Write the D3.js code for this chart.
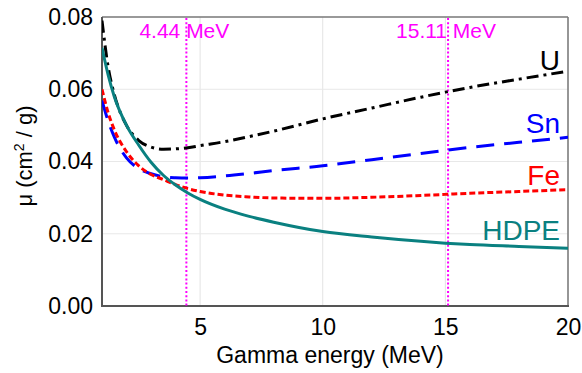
<!DOCTYPE html>
<html><head><meta charset="utf-8">
<script src="https://cdn.jsdelivr.net/npm/d3@7"></script>
<style>body{margin:0;background:#fff}svg{display:block;font-family:"Liberation Sans",Arial,sans-serif}</style>
</head><body>
<svg id="c" width="582" height="373"></svg>
<script>
const energies = [1, 1.25, 1.5, 2, 2.5, 3, 3.5, 4, 4.5, 5, 6, 7, 8, 10, 12, 14, 15, 16, 18, 20];
const muU    = [0.0790,0.0662,0.0586,0.0500,0.0458,0.0440,0.0434,0.0435,0.0438,0.0444,0.0455,0.0469,0.0484,0.0518,0.0548,0.0578,0.0592,0.0605,0.0628,0.0650];
const muSn   = [0.0569,0.0512,0.0468,0.0410,0.0380,0.0366,0.0358,0.0355,0.0354,0.0355,0.0360,0.0367,0.0375,0.0388,0.0405,0.0422,0.0431,0.0439,0.0453,0.0467];
const muFe   = [0.0600,0.0535,0.0488,0.0427,0.0388,0.0364,0.0350,0.0336,0.0325,0.0317,0.0307,0.0302,0.0299,0.0298,0.0301,0.0306,0.0309,0.0312,0.0317,0.0322];
const muHDPE = [0.0715,0.0640,0.0580,0.0500,0.0445,0.0398,0.0362,0.0335,0.0313,0.0295,0.0268,0.0248,0.0232,0.0206,0.0191,0.0179,0.0174,0.0170,0.0165,0.0160];
const seriesNames = ["U", "Sn", "Fe", "HDPE"];
const xTicks = [5, 10, 15, 20];
const yTicks = [0, 0.02, 0.04, 0.06, 0.08];
const markerLines = [4.44, 15.11];
const markerLabels = ["4.44 MeV", "15.11 MeV"];

const series = [
  {name:"U", vals:muU, color:"#000000", dash:"12,5,3,5", ly:70},
  {name:"Sn", vals:muSn, color:"#0000ff", dash:"18,10", ly:133},
  {name:"Fe", vals:muFe, color:"#ff0000", dash:"6,3", ly:185},
  {name:"HDPE", vals:muHDPE, color:"#0a8080", dash:null, ly:240}
];

const L=102, R=568, T=17, B=306;
const x = d3.scaleLinear().domain([1,20]).range([L,R]);
const y = d3.scaleLinear().domain([0,0.08]).range([B,T]);
const svg = d3.select("#c");
svg.append("rect").attr("width",582).attr("height",373).attr("fill","#fff");

svg.append("defs").append("clipPath").attr("id","clip").append("rect")
  .attr("x",L).attr("y",T).attr("width",R-L).attr("height",B-T);

// grid
svg.append("g").selectAll("line").data(xTicks).join("line")
  .attr("x1",d=>x(d)).attr("x2",d=>x(d)).attr("y1",T).attr("y2",B)
  .attr("stroke","#e3e3e3").attr("stroke-width",1);
svg.append("g").selectAll("line").data(yTicks.slice(1,-1)).join("line")
  .attr("x1",L).attr("x2",R).attr("y1",d=>y(d)).attr("y2",d=>y(d))
  .attr("stroke","#e8e8e8").attr("stroke-width",1);

// axes
const xAxis = svg.append("g").attr("transform",`translate(0,${B})`)
  .call(d3.axisBottom(x).tickValues(xTicks).tickSize(0).tickPadding(8).tickFormat(d3.format("d")));
const yAxis = svg.append("g").attr("transform",`translate(${L},0)`)
  .call(d3.axisLeft(y).tickValues(yTicks).tickSize(0).tickPadding(9).tickFormat(d3.format(".2f")));
[xAxis,yAxis].forEach(a=>{
  a.select(".domain").remove();
  a.selectAll("text").attr("font-size",23).attr("fill","#000").attr("font-family","Liberation Sans, Arial, sans-serif");
});
xAxis.selectAll("text").attr("dy","0.92em");

// frame
svg.append("line").attr("x1",L).attr("x2",R).attr("y1",T).attr("y2",T).attr("stroke","#777").attr("stroke-width",1.5);
svg.append("line").attr("x1",R).attr("x2",R).attr("y1",T).attr("y2",B).attr("stroke","#777").attr("stroke-width",1.5);
svg.append("line").attr("x1",L).attr("x2",L).attr("y1",T).attr("y2",B+1).attr("stroke","#555").attr("stroke-width",2);
svg.append("line").attr("x1",L-1).attr("x2",R+1).attr("y1",B).attr("y2",B).attr("stroke","#555").attr("stroke-width",2);

// marker lines
svg.append("g").selectAll("line").data(markerLines).join("line")
  .attr("x1",d=>x(d)).attr("x2",d=>x(d)).attr("y1",T+1).attr("y2",B)
  .attr("stroke","#ff00ff").attr("stroke-width",2).attr("stroke-dasharray","2,2.2");
svg.append("g").selectAll("text").data(markerLines).join("text")
  .attr("x",d=>x(d)-2).attr("y",38).attr("text-anchor","middle")
  .attr("font-size",21).attr("fill","#ff00ff").text((d,i)=>markerLabels[i]);

// curves
const line = d3.line().x(d=>x(d[0])).y(d=>y(d[1])).curve(d3.curveMonotoneX);
const g = svg.append("g").attr("clip-path","url(#clip)");
series.forEach(s=>{
  g.append("path").datum(energies.map((e,i)=>[e,s.vals[i]]))
    .attr("d",line).attr("fill","none").attr("stroke",s.color).attr("stroke-width",3)
    .attr("stroke-dasharray",s.dash);
});
svg.append("g").selectAll("text").data(series).join("text")
  .attr("x",560).attr("y",d=>d.ly).attr("text-anchor","end")
  .attr("font-size",28).attr("fill",d=>d.color).text(d=>d.name);

// axis titles
svg.append("text").attr("x",330).attr("y",363).attr("text-anchor","middle")
  .attr("font-size",23).attr("fill","#000").text("Gamma energy (MeV)");
const yt = svg.append("text").attr("transform","translate(32,156) rotate(-90)")
  .attr("text-anchor","middle").attr("font-size",22).attr("fill","#000");
yt.append("tspan").text("μ  (cm");
yt.append("tspan").attr("font-size",14).attr("dy",-8).text("2");
yt.append("tspan").attr("dy",8).text(" / g)");
</script>
</body></html>
